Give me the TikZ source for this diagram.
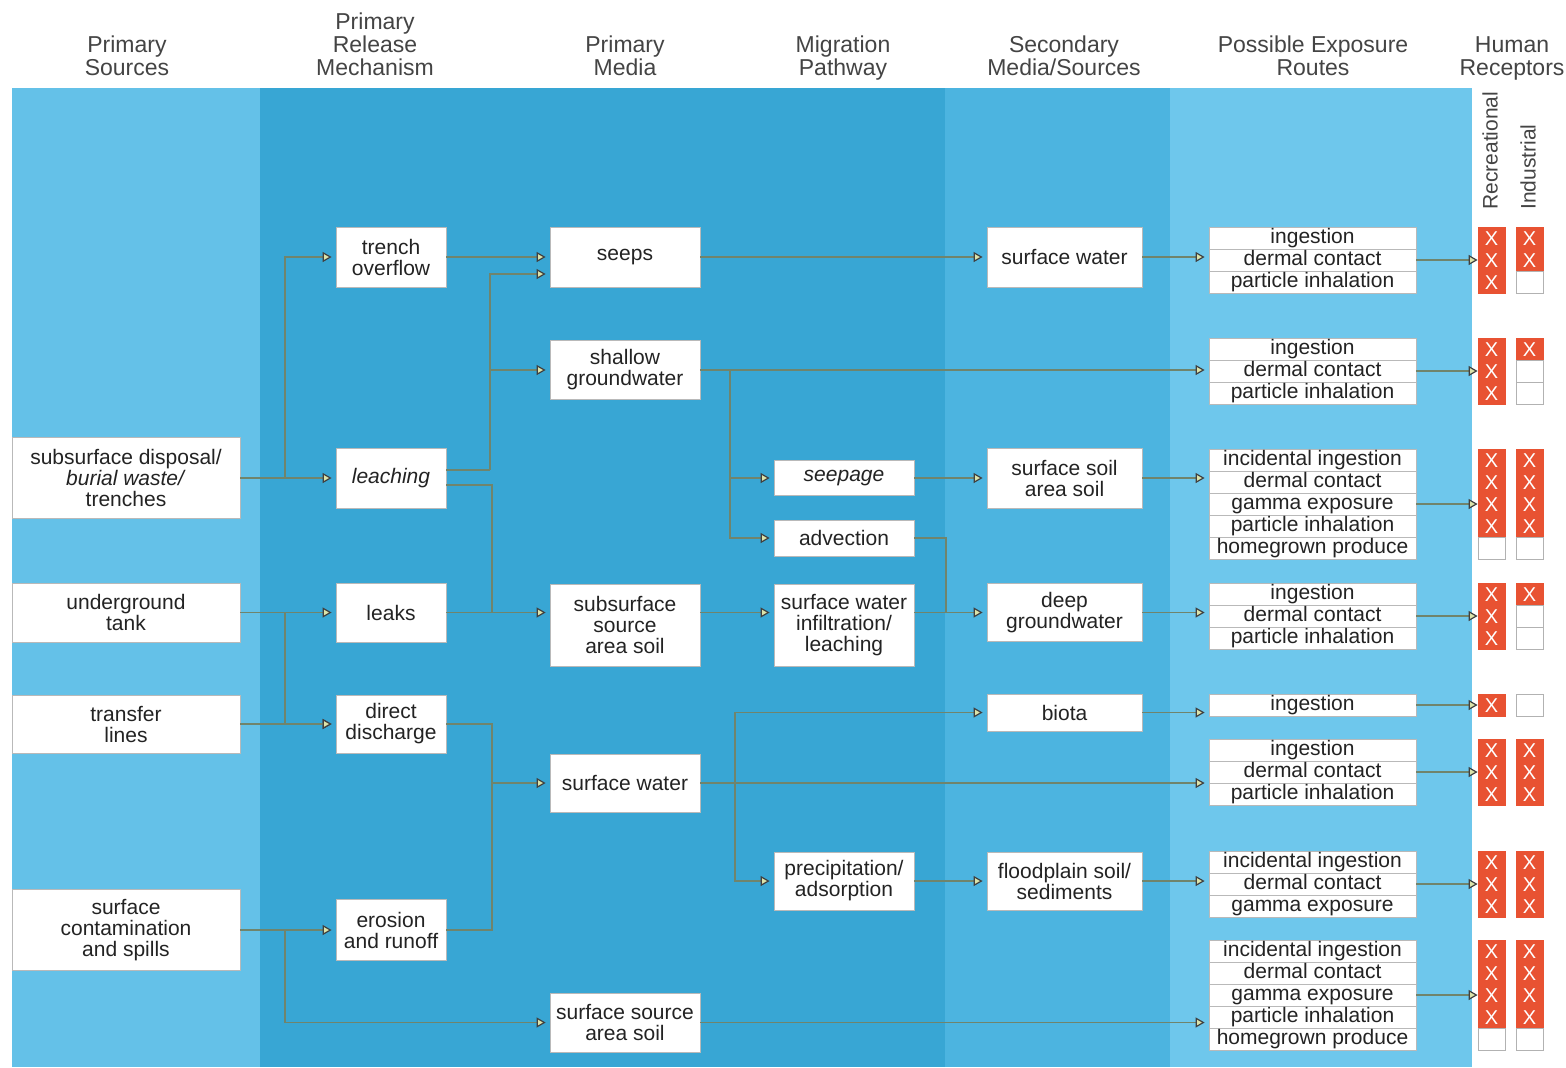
\documentclass[tikz,border=0pt]{standalone}
\usepackage{fontspec}
\setmainfont{Liberation Sans}
\usetikzlibrary{arrows.meta}

\definecolor{srcblue}{RGB}{100,193,232}
\definecolor{midblue}{RGB}{56,166,212}
\definecolor{secblue}{RGB}{76,180,224}
\definecolor{expblue}{RGB}{110,199,236}
\definecolor{xred}{RGB}{232,82,50}
\definecolor{linecol}{RGB}{112,132,108}
\definecolor{tipfill}{RGB}{220,228,170}
\definecolor{txtcol}{RGB}{35,35,35}

\tikzset{
  box/.style={draw=gray!55, fill=white, text=txtcol, align=center, inner sep=0pt,
    font=\fontsize{10.5}{10.5}\selectfont},
  srcbox/.style={box, minimum width=114pt},
  relbox/.style={box, minimum width=55pt},
  medbox/.style={box, minimum width=75pt},
  migbox/.style={box, minimum width=70pt},
  secbox/.style={box, minimum width=77.5pt},
  route/.style={box, minimum width=103.5pt, minimum height=11pt, text height=7.6pt, text depth=2.2pt},
  head/.style={align=center, inner sep=0pt, text=txtcol!85,
    font=\fontsize{11.5}{11.5}\selectfont},
  xcell/.style={fill=xred, draw=xred, minimum width=13.5pt, minimum height=11pt,
    inner sep=0pt, text height=7pt, text depth=0pt, text=white, font=\fontsize{10}{10}\selectfont},
  ocell/.style={fill=white, draw=gray!60, minimum width=13.5pt, minimum height=11pt,
    inner sep=0pt},
  link/.style={draw=linecol, line width=0.6pt},
  arr/.style={link, -{Triangle[length=4.5pt, width=5pt, fill=tipfill, color=black!75]},
    shorten >=2pt}
}

\begin{document}
\begin{tikzpicture}[x=0.5pt, y=-0.5pt]
    % Background bands
    \fill[white] (0,0) rectangle (1566,1067);
    \fill[srcblue] (12,88) rectangle (260,1067);
    \fill[midblue] (260,88) rectangle (945,1067);
    \fill[secblue] (945,88) rectangle (1170,1067);
    \fill[expblue] (1170,88) rectangle (1472,1067);

    % Column headings
    \node[head] (h1) at (127,55.5) {Primary\\Sources};
    \node[head] (h2) at (375,44) {Primary\\Release\\Mechanism};
    \node[head] (h3) at (625,55.5) {Primary\\Media};
    \node[head] (h4) at (843,58.5) {Migration\\Pathway};
    \node[head] (h5) at (1064,55.5) {Secondary\\Media/Sources};
    \node[head] (h6) at (1313,55.5) {Possible Exposure\\Routes};
    \node[head] (h7) at (1512,58.5) {Human\\Receptors};
    \node[head, font=\fontsize{10.5}{10.5}\selectfont, rotate=90, anchor=west] (recr) at (1490,210) {Recreational};
    \node[head, font=\fontsize{10.5}{10.5}\selectfont, rotate=90, anchor=west] (indu) at (1528,210) {Industrial};

    % Primary sources
    \node[srcbox, minimum height=40.5pt] (subdisp) at (126,478) {subsurface disposal/\\\textit{burial waste/}\\trenches};
    \node[srcbox, minimum height=29.5pt] (ugtank) at (126,612.5) {underground\\tank};
    \node[srcbox, minimum height=29pt] (transln) at (126,724) {transfer\\lines};
    \node[srcbox, minimum height=40.5pt] (surfcont) at (126,930) {surface\\contamination\\and spills};

    % Release mechanisms
    \node[relbox, minimum height=30pt] (trench) at (391,257) {trench\\overflow};
    \node[relbox, minimum height=30pt] (leach) at (391,478) {\textit{leaching}};
    \node[relbox, minimum height=29.5pt] (leaks) at (391,612.5) {leaks};
    \node[relbox, minimum height=29pt] (dirdis) at (391,724) {direct\\discharge};
    \node[relbox, minimum height=30.5pt] (erosion) at (391,930) {erosion\\and runoff};

    % Primary media
    \node[medbox, minimum height=30pt] (seeps) at (625,257) {seeps};
    \node[medbox, minimum height=29.5pt] (shgw) at (625,370) {shallow\\groundwater};
    \node[medbox, minimum height=41pt] (subsoil) at (625,625) {subsurface\\source\\area soil};
    \node[medbox, minimum height=29pt] (surfw) at (625,783) {surface water};
    \node[medbox, minimum height=29.5pt] (surfsoil) at (625,1022.5) {surface source\\area soil};

    % Migration pathways
    \node[migbox, minimum height=17.5pt] (seepage) at (844,478) {\textit{seepage}};
    \node[migbox, minimum height=18pt] (advect) at (844,538) {advection};
    \node[migbox, minimum height=41pt] (infil) at (844,625) {surface water\\infiltration/\\leaching};
    \node[migbox, minimum height=29pt] (precip) at (844,881) {precipitation/\\adsorption};

    % Secondary media
    \node[secbox, minimum height=30pt] (secsw) at (1064.5,257) {surface water};
    \node[secbox, minimum height=30pt] (secsoil) at (1064.5,478) {surface soil\\area soil};
    \node[secbox, minimum height=29pt] (deepgw) at (1064.5,612.5) {deep\\groundwater};
    \node[secbox, minimum height=18.5pt] (biota) at (1064.5,712.5) {biota};
    \node[secbox, minimum height=29pt] (flood) at (1064.5,881) {floodplain soil/\\sediments};

    % Exposure routes
    \foreach \t [count=\k] in {ingestion,dermal contact,particle inhalation}
        \node[route] (g1-\k) at (1312.5,216+22*\k) {\t};
    \foreach \t [count=\k] in {ingestion,dermal contact,particle inhalation}
        \node[route] (g2-\k) at (1312.5,327+22*\k) {\t};
    \foreach \t [count=\k] in {incidental ingestion,dermal contact,gamma exposure,particle inhalation,homegrown produce}
        \node[route] (g3-\k) at (1312.5,438+22*\k) {\t};
    \foreach \t [count=\k] in {ingestion,dermal contact,particle inhalation}
        \node[route] (g4-\k) at (1312.5,572+22*\k) {\t};
    \node[route] (g5-1) at (1312.5,705) {ingestion};
    \foreach \t [count=\k] in {ingestion,dermal contact,particle inhalation}
        \node[route] (g6-\k) at (1312.5,728+22*\k) {\t};
    \foreach \t [count=\k] in {incidental ingestion,dermal contact,gamma exposure}
        \node[route] (g7-\k) at (1312.5,840+22*\k) {\t};
    \foreach \t [count=\k] in {incidental ingestion,dermal contact,gamma exposure,particle inhalation,homegrown produce}
        \node[route] (g8-\k) at (1312.5,929+22*\k) {\t};

    % Receptor cells
    \foreach \y in {238,260,282,349,371,393,460,482,504,526,594,616,638,705,750,772,794,862,884,906,951,973,995,1017}
        \node[xcell] (r\y) at (1491.5,\y) {X};
    \foreach \y in {548,1039}
        \node[ocell] (r\y) at (1491.5,\y) {};
    \foreach \y in {238,260,349,460,482,504,526,594,750,772,794,862,884,906,951,973,995,1017}
        \node[xcell] (i\y) at (1529.5,\y) {X};
    \foreach \y in {282,371,393,548,616,638,705,1039}
        \node[ocell] (i\y) at (1529.5,\y) {};

    % Sources -> release
    \coordinate (j1) at (285,478);
    \coordinate (j2) at (285,612.5);
    \coordinate (j3) at (285,930);
    \draw[arr] (subdisp) -- (leach);
    \draw[arr] (j1) |- (trench);
    \draw[arr] (ugtank) -- (leaks);
    \draw[arr] (j2) |- (dirdis);
    \draw[arr] (transln) -- (dirdis);
    \draw[arr] (surfcont) -- (erosion);
    \draw[arr] (j3) |- (surfsoil);

    % Release -> media
    \coordinate (j4) at (490,470);
    \coordinate (j5) at (492,612.5);
    \coordinate (j6) at (492,783);
    \draw[arr] (trench) -- (seeps);
    \draw[link] ([yshift=4pt]leach.east) -- (j4);
    \draw[arr] (j4) |- ([yshift=-8.5pt]seeps.west);
    \draw[arr] (j4) |- (shgw);
    \draw[link] ([yshift=-3.5pt]leach.east) -| (j5);
    \draw[arr] (leaks.east) -- (leaks.east -| subsoil.west);
    \draw[link] (dirdis.east) -| (j6);
    \draw[link] (erosion.east) -| (j6);
    \draw[arr] (j6) -- (surfw);

    % Media -> pathways and secondary media
    \coordinate (j7) at (730,370);
    \coordinate (j8) at (946,612.5);
    \coordinate (j9) at (735,783);
    \draw[arr] (seeps) -- (secsw);
    \draw[arr] (shgw.east) -- (shgw.east -| g2-1.west);
    \draw[arr] (j7) |- (seepage);
    \draw[arr] (j7) |- (advect);
    \draw[arr] ([yshift=6.25pt]subsoil.east) -- ([yshift=6.25pt]infil.west);
    \draw[arr] (surfw.east) -- (surfw.east -| g6-1.west);
    \draw[arr] (j9) |- (biota);
    \draw[arr] (j9) |- (precip);
    \draw[arr] (surfsoil.east) -- (surfsoil.east -| g8-1.west);
    \draw[arr] (seepage) -- (secsoil);
    \draw[link] (advect.east) -| (j8);
    \draw[arr] ([yshift=6.25pt]infil.east) -- (deepgw);
    \draw[arr] (precip) -- (flood);

    % Secondary media -> routes
    \draw[arr] (secsw.east) -- (secsw.east -| g1-1.west);
    \draw[arr] (secsoil.east) -- (secsoil.east -| g3-1.west);
    \draw[arr] (deepgw.east) -- (deepgw.east -| g4-1.west);
    \draw[arr] (biota.east) -- (biota.east -| g5-1.west);
    \draw[arr] (flood.east) -- (flood.east -| g7-1.west);

    % Routes -> receptors
    \foreach \g/\c in {g1-2/r260,g2-2/r371,g3-3/r504,g4-2/r616,g5-1/r705,g6-2/r772,g7-2/r884,g8-3/r995}
        \draw[arr, shorten >=0pt] (\g) -- (\c);
\end{tikzpicture}
\end{document}
